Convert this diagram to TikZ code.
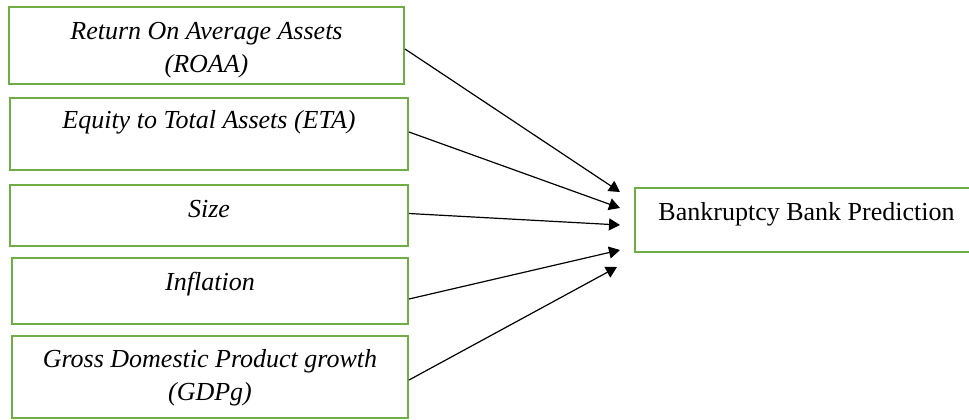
\documentclass[tikz,border=0pt]{standalone}
\usepackage{fontspec}
\setmainfont{Liberation Serif}
\usetikzlibrary{arrows.meta}
\definecolor{boxgreen}{HTML}{70AD47}
\tikzset{
  varbox/.style={draw=boxgreen,line width=1pt,inner sep=2pt,align=center,
    font=\fontsize{13}{16.5}\selectfont\itshape},
  conn/.style={-{Triangle[length=5.5pt,width=6pt]},line width=0.6pt}
}
\begin{document}
\begin{tikzpicture}[x=0.5pt,y=-0.5pt]
\useasboundingbox (0,0) rectangle (969,419);
%variables
\node[varbox,minimum width=197.5pt,minimum height=38.5pt,text height=29.5pt,text depth=3pt] (roaa) at (206.5,45.5) {Return On Average Assets\\(ROAA)};
\node[varbox,minimum width=199pt,minimum height=36pt,text height=9pt,text depth=15pt] (eta) at (209,134) {Equity to Total Assets (ETA)};
\node[varbox,minimum width=199pt,minimum height=30.5pt,text height=9pt,text depth=7.5pt] (size) at (209,215.5) {Size};
\node[varbox,minimum width=198pt,minimum height=33pt,text height=9pt,text depth=10pt] (infl) at (210,291) {Inflation};
\node[varbox,minimum width=198pt,minimum height=41pt,text height=26pt,text depth=3pt] (gdpg) at (210,377) {Gross Domestic Product growth\\(GDPg)};
\node[varbox,font=\fontsize{13}{16.5}\selectfont,minimum width=171.5pt,minimum height=32pt,text height=9pt,text depth=9pt] (bbp) at (806.5,220) {Bankruptcy Bank Prediction};
%
\coordinate (t1) at (620,192);
\coordinate (t2) at (620,208);
\coordinate (t3) at (620,225);
\coordinate (t4) at (620,250);
\coordinate (t5) at (617,267);
\draw[conn] ([yshift=-1.75pt]roaa.east)--(t1);
\draw[conn] ([yshift=1pt]eta.east)--(t2);
\draw[conn] ([yshift=1pt]size.east)--(t3);
\draw[conn] ([yshift=-4pt]infl.east)--(t4);
\draw[conn] ([yshift=-1.5pt]gdpg.east)--(t5);
\end{tikzpicture}
\end{document}
